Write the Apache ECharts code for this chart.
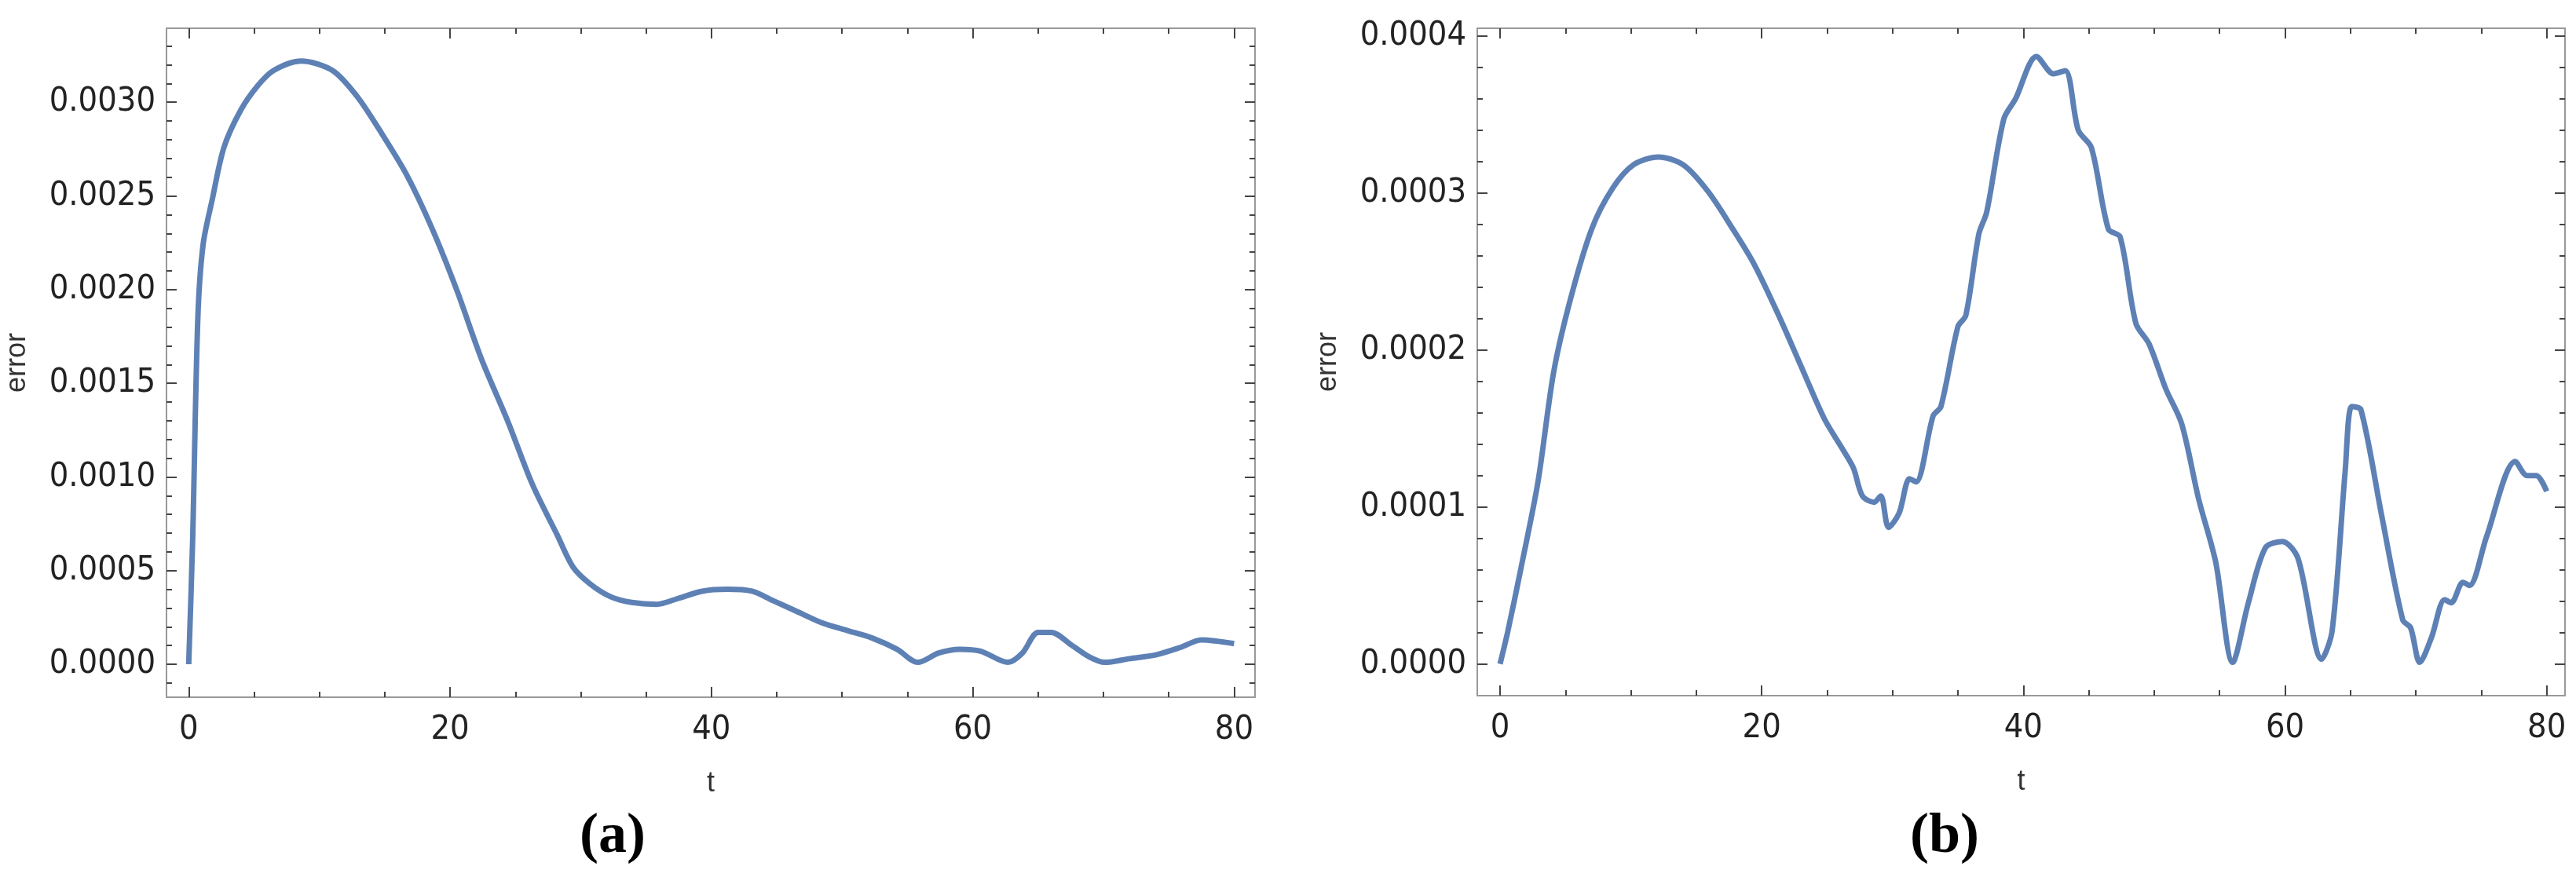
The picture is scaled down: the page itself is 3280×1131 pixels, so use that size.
<!DOCTYPE html>
<html><head><meta charset="utf-8">
<script src="https://cdn.jsdelivr.net/npm/echarts@6/dist/echarts.min.js"></script>
<style>html,body{margin:0;background:#fff}#c{width:3280px;height:1131px}</style>
</head><body><div id="c"></div>
<script>
// Panel (a)
const tA = [0,0.3,0.7,1.1,1.8,2.7,4,5.3,6.5,8.6,11,12.9,14.8,16.7,18.6,20.5,22.4,24.4,26.3,28.2,29.4,30.7,32.3,33.9,35.8,37.4,39.3,41.2,43.1,44.7,46.6,48.5,50.4,52.3,54.2,55.8,57.4,59,60.6,62.7,63.8,65,66,67.6,68.9,70.1,72,74,75.9,77.5,80];
const errA = [0,0.00066,0.00185,0.00224,0.00248,0.00276,0.00296,0.00309,0.00317,0.00322,0.00317,0.00303,0.00283,0.00261,0.00233,0.00200,0.00163,0.00130,0.00096,0.00069,0.00052,0.00043,0.00036,0.00033,0.00032,0.00035,0.00039,0.00040,0.00039,0.00034,0.00028,0.00022,0.00018,0.00014,0.00008,0.00001,0.00006,0.00008,0.00007,0.00001,0.00006,0.00017,0.00017,0.00010,0.00004,0.00001,0.00003,0.00005,0.00009,0.00013,0.00011];
// Panel (b)
const tB = [0,0.6,1.6,2.9,4.1,5.4,7,8.6,10.2,12.1,14,15.9,17.8,19.4,21.3,23.2,24.8,26.1,27,27.7,28.6,29.1,29.7,30.5,31.3,31.8,33.1,33.7,35,35.6,36.6,37.2,38.5,39.4,41,42.3,43.2,44.2,45.2,46.5,47.4,48.6,49.6,50.9,52.1,53.4,54.7,56,57.2,58.5,59.8,61,62.8,63.6,64.6,65.1,65.8,67.4,69,69.6,70.3,71.2,72.2,72.7,73.6,74.1,75.4,77.6,78.5,79.2,80];
const errB = [0,0.000021,0.000061,0.000116,0.000186,0.000233,0.000277,0.000303,0.000318,0.000323,0.000318,0.000301,0.000277,0.000255,0.000222,0.000186,0.000156,0.000138,0.000125,0.000107,0.000103,0.000107,0.000087,0.000096,0.000118,0.000116,0.000158,0.000164,0.000215,0.000222,0.000274,0.000288,0.000347,0.00036,0.000387,0.000376,0.000378,0.00034,0.000329,0.000277,0.000272,0.000217,0.000204,0.000175,0.000153,0.000105,0.000065,0.000001,0.000039,0.000074,0.000078,0.000067,0.000003,0.000021,0.000123,0.000164,0.000162,0.000094,0.000028,0.000023,0.000001,0.000017,0.000041,0.000039,0.000052,0.00005,0.000081,0.000129,0.00012,0.00012,0.00011];
const xMajor = [0,20,40,60,80];
const xMinor = [0,5,10,15,20,25,30,35,40,45,50,55,60,65,70,75,80];
const yMajorA = [0,0.0005,0.001,0.0015,0.002,0.0025,0.003];
const yMinorA = [-0.0001,0,0.0001,0.0002,0.0003,0.0004,0.0005,0.0006,0.0007,0.0008,0.0009,0.001,0.0011,0.0012,0.0013,0.0014,0.0015,0.0016,0.0017,0.0018,0.0019,0.002,0.0021,0.0022,0.0023,0.0024,0.0025,0.0026,0.0027,0.0028,0.0029,0.003,0.0031,0.0032,0.0033];
const yMajorB = [0,0.0001,0.0002,0.0003,0.0004];
const yMinorB = [0,0.00002,0.00004,0.00006,0.00008,0.0001,0.00012,0.00014,0.00016,0.00018,0.0002,0.00022,0.00024,0.00026,0.00028,0.0003,0.00032,0.00034,0.00036,0.00038,0.0004];

const font = '"DejaVu Sans Condensed","Liberation Sans Narrow",sans-serif';
const lineCol = '#999';
function axes(kind, gi, min, max, major, minor, labelFmt, name, nameGap){
  const res = [];
  const positions = kind==='x' ? ['bottom','top'] : ['left','right'];
  positions.forEach((pos, pi) => {
    [true,false].forEach(isMajor => {
      const vals = isMajor ? major : minor;
      const showLab = isMajor && pi===0;
      res.push({
        type:'value', gridIndex:gi, position:pos, min:min, max:max,
        name: (showLab ? name : ''), nameLocation:'middle', nameGap:nameGap,
        nameTextStyle:{fontFamily:'"Liberation Sans",sans-serif', fontSize:36, color:'#333'},
        axisLine:{show:isMajor, onZero:false, lineStyle:{color:lineCol, width:2}},
        splitLine:{show:false},
        axisTick:{show:true, inside:true, length:isMajor?13:7, customValues:vals, lineStyle:{color:'#444', width:2}},
        axisLabel:{show:showLab, customValues:vals, formatter:labelFmt, fontFamily:font, fontSize:43, color:'#222', margin: kind==='x'?20:14},
        minorTick:{show:false}
      });
    });
  });
  return res;
}
const fx = v => String(Math.round(v));
const fy = v => (Math.abs(v)<1e-12?0:v).toFixed(4);
const xAxis = [].concat(
  axes('x',0,-1.7,81.6,xMajor,xMinor,fx,'t',92),
  axes('x',1,-1.74,81.4,xMajor,xMinor,fx,'t',92));
const yAxis = [].concat(
  axes('y',0,-0.000176,0.003395,yMajorA,yMinorA,fy,'error',172),
  axes('y',1,-0.0000202,0.000405,yMajorB,yMinorB,fy,'error',172));
const lineStyle = {color:'#5E81B5', width:7};
const chart = echarts.init(document.getElementById('c'));
chart.setOption({
  backgroundColor:'#fff', animation:false,
  grid:[{left:212, width:1386, top:36, height:852},{left:1881, width:1385, top:36, height:850}],
  xAxis:xAxis, yAxis:yAxis,
  series:[
    {type:'line', xAxisIndex:0, yAxisIndex:0, data:tA.map((t,i)=>[t,errA[i]]), showSymbol:false, smooth:0.3, lineStyle:lineStyle},
    {type:'line', xAxisIndex:4, yAxisIndex:4, data:tB.map((t,i)=>[t,errB[i]]), showSymbol:false, smooth:0.3, lineStyle:lineStyle}
  ],
  graphic:[
    {type:'text', left:738, top:1030, style:{text:'(a)', font:'bold 72px "Liberation Serif","DejaVu Serif",serif', fill:'#000'}},
    {type:'text', left:2432, top:1030, style:{text:'(b)', font:'bold 72px "Liberation Serif","DejaVu Serif",serif', fill:'#000'}}
  ]
});
</script></body></html>
